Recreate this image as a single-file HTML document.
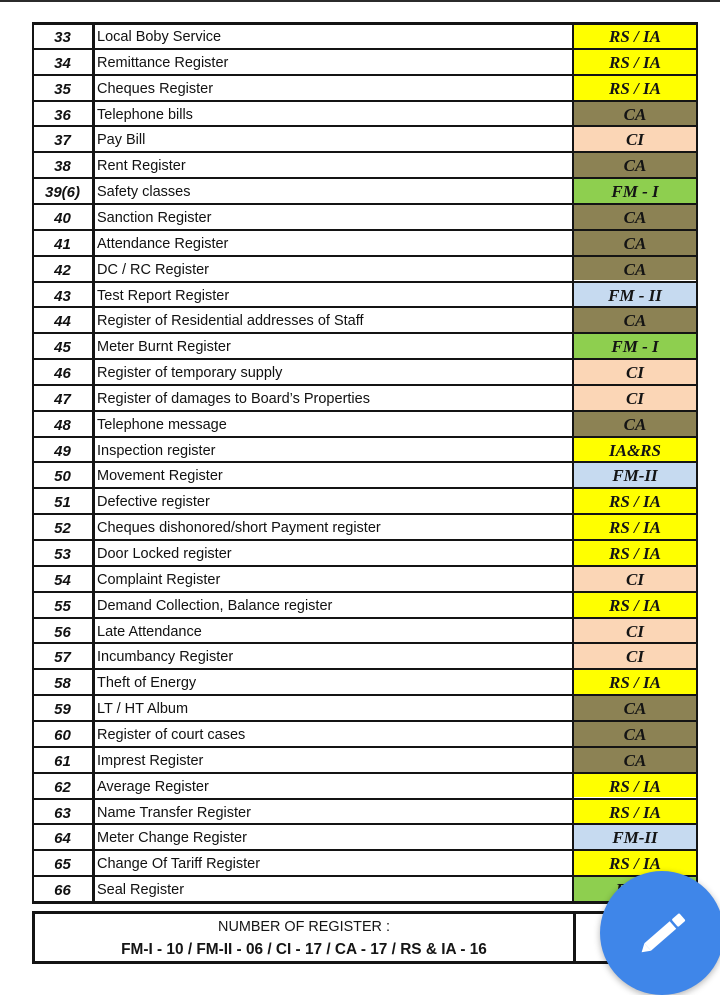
<!DOCTYPE html>
<html>
<head>
<meta charset="utf-8">
<style>
  html,body{margin:0;padding:0;}
  body{width:720px;height:988px;position:relative;overflow:hidden;background:#ffffff;}
  .topbar{position:absolute;left:0;top:0;width:720px;height:2px;background:#2b2b2b;}
  .row{position:absolute;left:32px;width:666px;height:25.85px;box-sizing:border-box;border-top:2px solid #141414;}
  .num{position:absolute;left:0;top:0;width:61px;height:100%;text-align:center;
       font-family:"Liberation Sans",sans-serif;font-weight:bold;font-style:italic;font-size:15px;line-height:27px;color:#111;}
  .name{position:absolute;left:65px;top:0;width:470px;height:100%;
       font-family:"Liberation Sans",sans-serif;font-size:14.5px;line-height:27px;color:#111;white-space:nowrap;}
  .code{position:absolute;left:541px;top:0;width:124px;height:100%;text-align:center;
       font-family:"Liberation Serif",serif;font-weight:bold;font-style:italic;font-size:17px;line-height:26px;color:#141414;overflow:hidden;}
  .Y{background:#ffff00;}
  .O{background:#8c8254;}
  .P{background:#fbd6b6;}
  .G{background:#8ecf4f;}
  .B{background:#c6daf0;}
  .vl{position:absolute;background:#141414;}
  .sum{position:absolute;left:32px;top:911px;width:666px;height:53px;box-sizing:border-box;border:3px solid #141414;}
  .sumdiv{position:absolute;left:538px;top:0;width:3px;height:100%;background:#141414;}
  .l1{position:absolute;left:0;width:538px;top:5px;text-align:center;font-family:"Liberation Sans",sans-serif;font-size:14.4px;color:#151515;}
  .l2{position:absolute;left:0;width:538px;top:27px;text-align:center;font-family:"Liberation Sans",sans-serif;font-weight:bold;font-size:15.4px;color:#151515;white-space:nowrap;}
  .fab{position:absolute;left:600px;top:871px;width:124px;height:124px;border-radius:50%;background:#3f86e9;box-shadow:0 2px 7px rgba(0,0,0,0.3);}
  .fab svg{position:absolute;left:0;top:0;}
</style>
</head>
<body>
<div class="topbar"></div>

<div class="row" style="top:22px"><div class="num">33</div><div class="name">Local Boby Service</div><div class="code Y">RS / IA</div></div>
<div class="row" style="top:47.85px"><div class="num">34</div><div class="name">Remittance Register</div><div class="code Y">RS / IA</div></div>
<div class="row" style="top:73.7px"><div class="num">35</div><div class="name">Cheques Register</div><div class="code Y">RS / IA</div></div>
<div class="row" style="top:99.55px"><div class="num">36</div><div class="name">Telephone bills</div><div class="code O">CA</div></div>
<div class="row" style="top:125.4px"><div class="num">37</div><div class="name">Pay Bill</div><div class="code P">CI</div></div>
<div class="row" style="top:151.25px"><div class="num">38</div><div class="name">Rent Register</div><div class="code O">CA</div></div>
<div class="row" style="top:177.1px"><div class="num">39(6)</div><div class="name">Safety classes</div><div class="code G">FM - I</div></div>
<div class="row" style="top:202.95px"><div class="num">40</div><div class="name">Sanction Register</div><div class="code O">CA</div></div>
<div class="row" style="top:228.8px"><div class="num">41</div><div class="name">Attendance Register</div><div class="code O">CA</div></div>
<div class="row" style="top:254.65px"><div class="num">42</div><div class="name">DC / RC Register</div><div class="code O">CA</div></div>
<div class="row" style="top:280.5px"><div class="num">43</div><div class="name">Test Report Register</div><div class="code B">FM - II</div></div>
<div class="row" style="top:306.35px"><div class="num">44</div><div class="name">Register of Residential addresses of Staff</div><div class="code O">CA</div></div>
<div class="row" style="top:332.2px"><div class="num">45</div><div class="name">Meter Burnt Register</div><div class="code G">FM - I</div></div>
<div class="row" style="top:358.05px"><div class="num">46</div><div class="name">Register of temporary supply</div><div class="code P">CI</div></div>
<div class="row" style="top:383.9px"><div class="num">47</div><div class="name">Register of damages to Board’s Properties</div><div class="code P">CI</div></div>
<div class="row" style="top:409.75px"><div class="num">48</div><div class="name">Telephone message</div><div class="code O">CA</div></div>
<div class="row" style="top:435.6px"><div class="num">49</div><div class="name">Inspection register</div><div class="code Y">IA&amp;RS</div></div>
<div class="row" style="top:461.45px"><div class="num">50</div><div class="name">Movement Register</div><div class="code B">FM-II</div></div>
<div class="row" style="top:487.3px"><div class="num">51</div><div class="name">Defective register</div><div class="code Y">RS / IA</div></div>
<div class="row" style="top:513.15px"><div class="num">52</div><div class="name">Cheques dishonored/short Payment register</div><div class="code Y">RS / IA</div></div>
<div class="row" style="top:539px"><div class="num">53</div><div class="name">Door Locked register</div><div class="code Y">RS / IA</div></div>
<div class="row" style="top:564.85px"><div class="num">54</div><div class="name">Complaint Register</div><div class="code P">CI</div></div>
<div class="row" style="top:590.7px"><div class="num">55</div><div class="name">Demand Collection, Balance register</div><div class="code Y">RS / IA</div></div>
<div class="row" style="top:616.55px"><div class="num">56</div><div class="name">Late Attendance</div><div class="code P">CI</div></div>
<div class="row" style="top:642.4px"><div class="num">57</div><div class="name">Incumbancy Register</div><div class="code P">CI</div></div>
<div class="row" style="top:668.25px"><div class="num">58</div><div class="name">Theft of Energy</div><div class="code Y">RS / IA</div></div>
<div class="row" style="top:694.1px"><div class="num">59</div><div class="name">LT / HT Album</div><div class="code O">CA</div></div>
<div class="row" style="top:719.95px"><div class="num">60</div><div class="name">Register of court cases</div><div class="code O">CA</div></div>
<div class="row" style="top:745.8px"><div class="num">61</div><div class="name">Imprest Register</div><div class="code O">CA</div></div>
<div class="row" style="top:771.65px"><div class="num">62</div><div class="name">Average Register</div><div class="code Y">RS / IA</div></div>
<div class="row" style="top:797.5px"><div class="num">63</div><div class="name">Name Transfer Register</div><div class="code Y">RS / IA</div></div>
<div class="row" style="top:823.35px"><div class="num">64</div><div class="name">Meter Change Register</div><div class="code B">FM-II</div></div>
<div class="row" style="top:849.2px"><div class="num">65</div><div class="name">Change Of Tariff Register</div><div class="code Y">RS / IA</div></div>
<div class="row" style="top:875.05px"><div class="num">66</div><div class="name">Seal Register</div><div class="code G">FM-I</div></div>

<!-- outer / vertical lines -->
<div class="vl" style="left:32px;top:22px;width:666px;height:2.5px;"></div>
<div class="vl" style="left:32px;top:900.5px;width:666px;height:3px;"></div>
<div class="vl" style="left:31.5px;top:22px;width:2.8px;height:881px;"></div>
<div class="vl" style="left:92px;top:22px;width:2.8px;height:881px;"></div>
<div class="vl" style="left:572px;top:22px;width:2.2px;height:881px;"></div>
<div class="vl" style="left:696px;top:22px;width:2.2px;height:881px;"></div>

<div class="sum">
  <div class="sumdiv"></div>
  <div class="l1">NUMBER OF REGISTER :</div>
  <div class="l2">FM-I - 10 / FM-II - 06 / CI - 17 / CA - 17 / RS &amp; IA - 16</div>
</div>

<div class="fab">
  <svg width="124" height="124" viewBox="0 0 124 124">
    <g transform="translate(62,63.5) rotate(-41)" fill="#ffffff">
      <polygon points="-27,0 -19,-5 -19,5"/>
      <rect x="-19" y="-5" width="33.5" height="10"/>
      <rect x="17" y="-5" width="10" height="10" rx="1.5"/>
    </g>
  </svg>
</div>
</body>
</html>
